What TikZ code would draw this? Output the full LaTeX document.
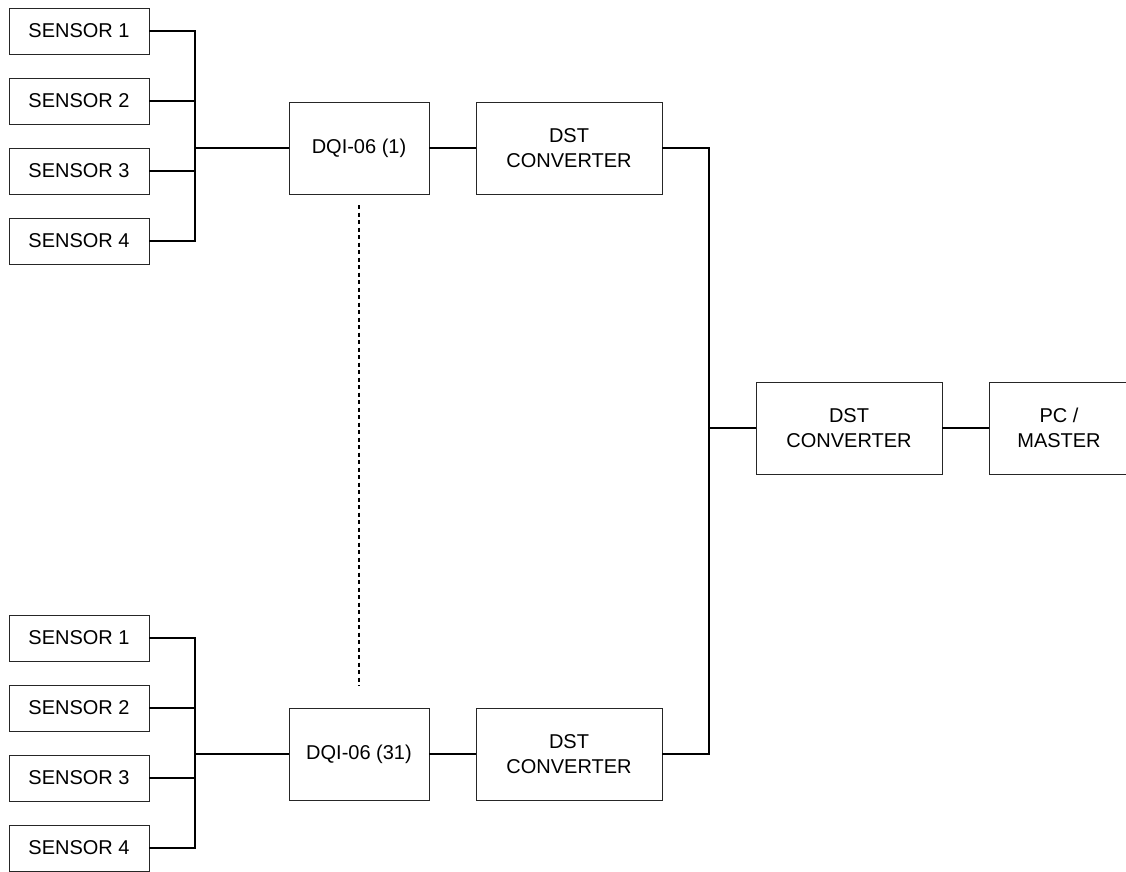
\documentclass[tikz,border=0pt]{standalone}
\usepackage{fontspec}
\setmainfont{Liberation Sans}
\begin{document}
\begin{tikzpicture}[x=1pt,y=-1pt,
  box/.style={draw=black!85, line width=0.9pt, fill=white, inner sep=0pt, align=center,
    font=\fontsize{20}{25}\selectfont},
  sensorbox/.style={box, minimum width=140pt, minimum height=46pt},
  dqibox/.style={box, minimum width=140pt, minimum height=92pt},
  dstbox/.style={box, minimum width=186pt, minimum height=92pt},
  wire/.style={line width=1.5pt, black},
  dotline/.style={line width=1.2pt, black, dash pattern=on 4pt off 3.5pt}]
\useasboundingbox (0,0) rectangle (1126,871);
\clip (0,0) rectangle (1126,871);
% top group
\node[sensorbox] (ts1) at (79,31) {SENSOR 1};
\node[sensorbox] (ts2) at (79,101) {SENSOR 2};
\node[sensorbox] (ts3) at (79,171) {SENSOR 3};
\node[sensorbox] (ts4) at (79,241) {SENSOR 4};
\coordinate (tj) at (195,148);
\node[dqibox] (dq1) at (359,148) {DQI-06 (1)};
\node[dstbox] (dst1) at (569,148) {DST\\CONVERTER};
% bottom group
\node[sensorbox] (bs1) at (79,638) {SENSOR 1};
\node[sensorbox] (bs2) at (79,708) {SENSOR 2};
\node[sensorbox] (bs3) at (79,778) {SENSOR 3};
\node[sensorbox] (bs4) at (79,848) {SENSOR 4};
\coordinate (bj) at (195,754);
\node[dqibox] (dq31) at (359,754) {DQI-06 (31)};
\node[dstbox] (dst2) at (569,754) {DST\\CONVERTER};
% right
\coordinate (hub) at (709,428);
\node[dstbox] (dstm) at (849,428) {DST\\CONVERTER};
\node[dqibox] (pc) at (1059,428) {PC /\\MASTER};
% connectors
\foreach \s in {ts1,ts2,ts3,ts4} \draw[wire] (\s.east) -| (tj);
\draw[wire] (tj) -- (dq1.west);
\draw[wire] (dq1.east) -- (dst1.west);
\foreach \s in {bs1,bs2,bs3,bs4} \draw[wire] (\s.east) -| (bj);
\draw[wire] (bj) -- (dq31.west);
\draw[wire] (dq31.east) -- (dst2.west);
\draw[wire] (dst1.east) -| (hub);
\draw[wire] (dst2.east) -| (hub);
\draw[wire] (hub) -- (dstm.west);
\draw[wire] (dstm.east) -- (pc.west);
\coordinate (d1) at (359,205);
\coordinate (d2) at (359,686);
\draw[dotline] (d1) -- (d2);
\end{tikzpicture}
\end{document}
